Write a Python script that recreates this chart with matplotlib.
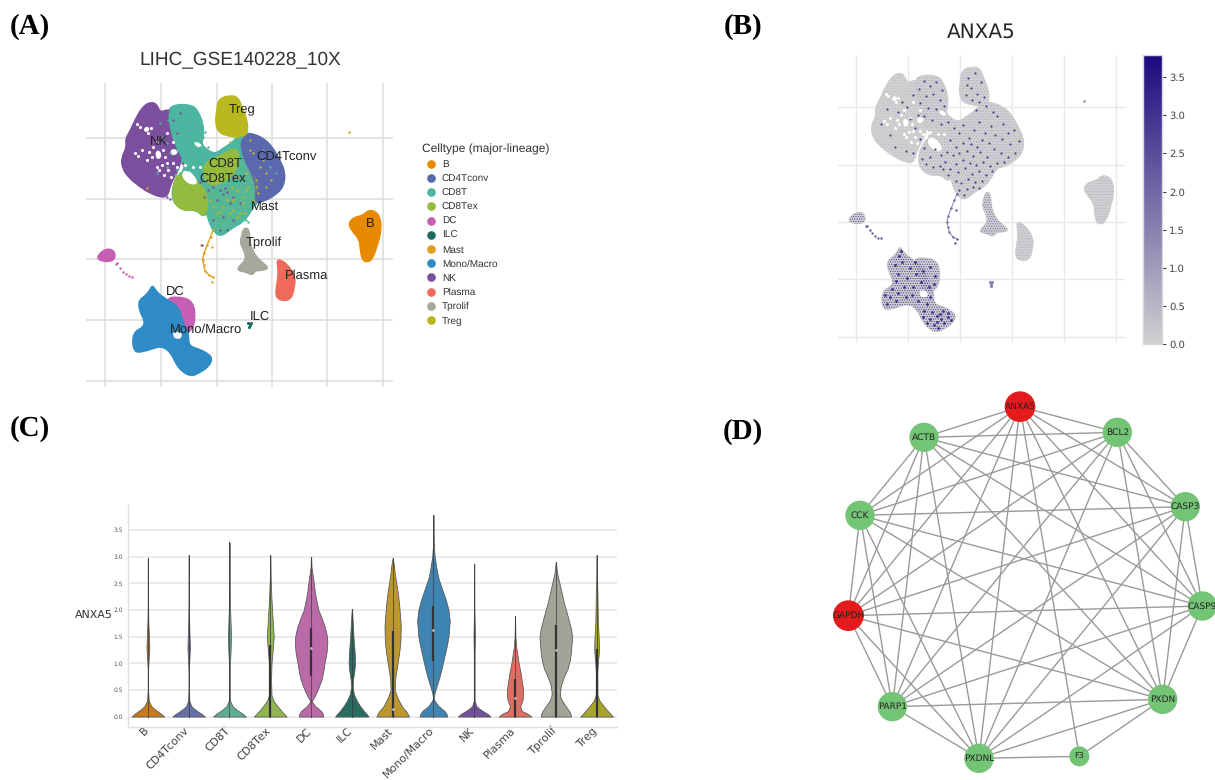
import itertools
import numpy as np
import matplotlib
matplotlib.use('Agg')
import matplotlib.pyplot as plt
from matplotlib.cm import ScalarMappable
from matplotlib.colors import LinearSegmentedColormap, Normalize
from matplotlib.lines import Line2D
from matplotlib.patches import Circle, PathPatch
from matplotlib.path import Path
from matplotlib.transforms import ScaledTranslation

W, H = 1215, 780
plt.rcParams['text.hinting'] = 'no_hinting'
plt.rcParams['text.hinting_factor'] = 1
plt.rcParams['hatch.linewidth'] = 0.5

celltypes = ['B', 'CD4Tconv', 'CD8T', 'CD8Tex', 'DC', 'ILC', 'Mast', 'Mono/Macro', 'NK', 'Plasma', 'Tprolif', 'Treg']
colors = ['#e88a00', '#5b68ad', '#4db6a0', '#93bb3f', '#c65fb3', '#1f6b5f', '#e0a020', '#2f8bc5', '#7b4f9d', '#ee6a5a', '#a5a89a', '#b9b81f']
violin_colors = ['#c67a1d', '#6570a8', '#5eae96', '#92b552', '#bb6aa8', '#2a6b60', '#bd962e', '#3e84b2', '#73519a', '#de6e62', '#a1a496', '#a8a52e']

# umap outlines
t_body = [(500,330),(530,312),(578,316),(594,332),(610,370),(612,410),(604,430),(618,447),(645,462),(665,448),(690,432),(712,412),(735,398),(760,402),(792,416),(818,442),(838,478),(856,515),(852,558),(828,584),(792,604),(768,608),(748,644),(728,668),(697,684),(665,710),(643,698),(625,662),(622,640),(608,650),(590,630),(550,632),(520,608),(515,570),(530,530),(560,500),(530,470),(515,400)]
nk_shape = [(455,306),(472,315),(480,338),(505,328),(527,343),(537,385),(548,420),(543,480),(535,512),(513,548),(503,590),(480,591),(450,579),(418,559),(387,533),(368,507),(364,475),(381,440),(376,418),(391,393),(411,348),(433,316)]
cd8t_shape = [(505,335),(530,315),(575,320),(590,335),(605,370),(608,410),(600,430),(615,450),(645,465),(665,450),(690,435),(720,440),(740,480),(760,520),(790,560),(765,605),(745,640),(725,665),(695,680),(665,705),(645,695),(628,660),(625,635),(620,590),(600,540),(575,500),(550,480),(530,440),(515,400)]
cd4_shape = [(722,425),(742,402),(760,402),(792,416),(818,442),(838,478),(856,515),(852,558),(828,584),(792,604),(765,608),(770,560),(750,510),(730,470)]
cd8tex_shape = [(528,526),(560,521),(592,548),(616,568),(626,625),(610,650),(590,629),(550,632),(522,609),(518,570)]
cd8tex_mid = [(610,490),(660,470),(705,440),(722,470),(700,530),(640,560),(615,540)]
treg_shape = [(655,298),(690,286),(715,292),(726,323),(740,353),(745,398),(722,414),(690,409),(657,399),(646,367),(651,335)]
tprolif_shape = [(732,684),(747,686),(750,720),(754,743),(770,772),(788,788),(808,805),(782,812),(767,811),(757,826),(738,816),(712,811),(720,796),(736,784),(737,762),(727,742),(721,725),(727,703)]
plasma_shape = [(832,776),(862,791),(886,830),(884,862),(873,901),(838,901),(826,882),(836,830),(834,800)]
b_shape = [(1046,670),(1063,652),(1090,647),(1105,631),(1127,634),(1142,653),(1144,692),(1134,732),(1118,779),(1100,787),(1087,778),(1082,747),(1079,717),(1057,693)]
dc_shape = [(497,898),(530,889),(582,902),(586,972),(564,1001),(528,998),(518,950)]
dc_small = [(294,765),(318,746),(343,751),(346,777),(326,786),(294,780)]
mono_shape = [(458,855),(470,877),(497,897),(538,922),(546,963),(566,998),(566,1037),(592,1046),(620,1058),(638,1075),(626,1101),(597,1119),(575,1129),(547,1116),(526,1088),(514,1059),(488,1039),(462,1044),(435,1054),(400,1058),(398,998),(431,982),(434,961),(420,936),(415,903),(437,887),(449,872)]
center_shape = [(640,470),(700,450),(760,520),(785,560),(760,605),(740,640),(720,665),(690,680),(665,700),(645,690),(630,650),(625,610),(610,550)]

# holes in the cloud
hole_mono = [(520,993),(548,998),(543,1018),(520,1015)]
hole_gap = [(548,512),(572,512),(598,550),(572,556),(546,534)]
hole_nk1 = [(430,385),(445,378),(450,392),(435,398)]
hole_nk2 = [(465,455),(480,450),(486,472),(470,480)]
hole_nk3 = [(515,445),(538,452),(525,468),(510,462)]
hole_top = [(580,425),(600,428),(608,442),(590,442)]
white_dots = [(412,372),(420,380),(445,400),(452,385),(460,440),(455,470),(448,455),(490,450),(495,470),(500,490),(485,495),(478,510),(505,510),(492,525),(470,500),(415,468),(405,458),(425,450),(440,480),(520,490),(530,500),(540,510),(555,495),(580,500),(600,500),(512,530),(470,425),(500,400),(520,425)]

mast_ribbon = [(640,690),(632,710),(622,735),(612,760),(608,780),(612,795),(615,812),(628,826),(640,832)]
mast_dots = [(1047,395),(637,742),(635,846),(604,735),(440,565)]
trail_dots = [(350,790),(360,805),(368,815),(378,822),(388,828),(395,831),(348,792)]
ilc_dots = [(745,970),(750,975),(754,968),(748,980)]

purple_dots = [(640,560),(660,570),(680,575),(700,590),(650,600),(690,610),(670,650),(640,660),(660,690),(700,660),(720,610),(600,545),(612,590),(625,570),(680,690),(500,590),(510,597),(605,735),(676,565),(668,583),(520,480),(510,430),(530,400),(520,360),(540,340),(535,460),(545,490)]
yellow_dots = [(700,600),(740,570),(770,560),(800,520),(780,500),(760,600),(720,640),(690,640),(740,520),(640,620),(790,480),(815,540),(760,460),(730,590),(710,570),(670,620),(650,640),(800,560),(750,420),(690,425),(720,390),(770,540),(750,450),(735,640),(700,630),(775,580),(655,540),(680,600),(715,530),(730,610),(745,560),(660,635),(695,560),(712,650),(630,600),(650,510),(690,505)]
teal_dots = [(505,360),(520,400),(500,430),(470,520),(500,500),(530,450),(545,380),(540,350),(515,375),(480,370),(610,410),(615,470),(560,510),(530,510),(600,440),(830,520),(700,440),(720,410),(490,410),(510,460),(525,525),(615,395),(625,440),(738,660),(745,665),(790,450),(810,500)]

# ANXA5 positive cells in panel B
anxa5_t = [(632,480),(648,497),(661,473),(679,512),(694,488),(712,463),(731,497),(748,476),(769,442),(788,468),(803,497),(822,486),(838,522),(812,533),(786,517),(763,503),(744,529),(722,518),(703,541),(684,533),(659,528),(638,541),(619,519),(607,556),(628,567),(648,561),(671,553),(692,569),(715,556),(737,572),(759,547),(781,561),(803,574),(827,561),(792,589),(768,592),(746,603),(725,588),(702,597),(681,591),(658,584),(637,596),(618,612),(644,622),(667,609),(688,627),(711,618),(733,629),(752,618),(722,649),(699,653),(676,642),(653,655),(636,648),(648,677),(671,674),(692,668),(712,671),(664,692),(535,545),(552,572),(571,547),(590,566),(541,595),(563,604),(585,601),(603,589),(612,631),(596,612),(528,578),(517,357),(535,331),(553,349),(572,336),(591,362),(541,381),(563,374),(585,392),(521,402),(548,417),(572,421),(599,411),(535,442),(561,455),(588,469),(612,463),(515,441),(500,376),(479,415),(490,452),(462,398),(505,481),(520,515),(450,430),(425,502),(395,470),(440,540),(475,555),(415,420),(498,560),(675,322),(698,306),(716,335),(685,354),(705,372),(668,378),(728,384),(690,392),(672,345),(712,398),(732,412),(700,425),(755,430)]
anxa5_mono = [(455,885),(440,915),(465,905),(490,925),(450,945),(480,955),(510,945),(530,935),(525,970),(500,985),(470,985),(450,1005),(425,1015),(415,1040),(445,1030),(475,1015),(495,1010),(515,1030),(545,1040),(555,1015),(535,1060),(560,1065),(585,1070),(610,1080),(600,1100),(575,1095),(555,1085),(580,1115),(620,1090),(595,1060),(460,870),(505,905),(555,920),(570,950),(550,985),(565,975),(430,990),(410,1010),(445,965),(530,1080),(590,1085),(565,1105),(612,1068),(545,1098),(575,1075)]

# violin profiles: (expression, half width)
v_b = [(0,.40),(.05,.33),(.1,.24),(.15,.15),(.2,.08),(.3,.02),(.5,.005),(.9,.005),(1.1,.02),(1.3,.035),(1.5,.025),(1.8,.01),(2.1,.005),(2.98,.004)]
v_cd4 = [(0,.40),(.05,.32),(.1,.22),(.15,.13),(.2,.06),(.3,.015),(.5,.005),(.9,.006),(1.1,.018),(1.3,.03),(1.5,.022),(1.8,.01),(2.1,.006),(3.03,.004)]
v_cd8t = [(0,.40),(.05,.33),(.1,.23),(.15,.14),(.2,.07),(.3,.015),(.5,.004),(.9,.006),(1.2,.025),(1.5,.038),(1.8,.025),(2.1,.012),(2.5,.005),(3.27,.003)]
v_tex = [(0,.40),(.05,.34),(.1,.28),(.2,.17),(.3,.08),(.4,.03),(.7,.02),(1.0,.03),(1.25,.06),(1.5,.085),(1.8,.06),(2.2,.03),(2.6,.01),(3.03,.004)]
v_dc = [(0,.30),(.05,.29),(.1,.25),(.2,.10),(.28,.02),(.35,.06),(.4,.10),(.5,.16),(.7,.26),(.85,.30),(1.0,.33),(1.2,.38),(1.4,.40),(1.55,.38),(1.7,.33),(1.85,.26),(2.0,.18),(2.3,.10),(2.6,.05),(2.8,.012),(3.0,.003)]
v_ilc = [(0,.41),(.05,.36),(.1,.30),(.2,.20),(.3,.12),(.42,.05),(.55,.02),(.7,.03),(.85,.06),(1.0,.08),(1.2,.07),(1.5,.04),(1.8,.02),(2.02,.003)]
v_mast = [(0,.40),(.05,.37),(.1,.33),(.2,.22),(.35,.12),(.5,.05),(.7,.06),(1.0,.12),(1.2,.16),(1.4,.19),(1.7,.20),(1.9,.18),(2.1,.16),(2.3,.13),(2.5,.09),(2.7,.05),(2.85,.03),(2.97,.003)]
v_mono = [(0,.34),(.05,.32),(.1,.28),(.2,.12),(.3,.03),(.35,.01),(.45,.03),(.6,.09),(.75,.15),(.9,.20),(1.1,.26),(1.3,.32),(1.5,.37),(1.8,.40),(2.0,.37),(2.2,.30),(2.4,.21),(2.6,.12),(2.8,.07),(3.0,.03),(3.2,.012),(3.4,.004),(3.78,.002)]
v_nk = [(0,.40),(.05,.33),(.1,.22),(.15,.12),(.2,.05),(.3,.01),(1.2,.01),(1.5,.018),(2.0,.005),(2.87,.002)]
v_plasma = [(0,.40),(.05,.32),(.1,.18),(.15,.14),(.2,.13),(.3,.18),(.4,.20),(.5,.20),(.7,.16),(.85,.13),(1.0,.09),(1.15,.06),(1.3,.03),(1.5,.01),(1.88,.002)]
v_tprolif = [(0,.37),(.05,.36),(.1,.33),(.2,.24),(.3,.15),(.38,.11),(.45,.10),(.6,.13),(.75,.20),(.9,.29),(1.05,.34),(1.2,.37),(1.5,.40),(1.65,.37),(1.8,.32),(2.0,.25),(2.1,.21),(2.3,.15),(2.5,.09),(2.7,.03),(2.9,.003)]
v_treg = [(0,.40),(.05,.34),(.1,.28),(.2,.17),(.3,.07),(.4,.02),(.8,.015),(1.0,.03),(1.15,.05),(1.3,.06),(1.5,.05),(1.8,.03),(2.3,.02),(2.7,.005),(3.03,.002)]

box_low = [None, None, None, 0, .77, None, 0, 1.05, None, 0, 0, 0]
box_high = [None, None, None, 1.35, 1.67, None, 1.6, 2.07, None, .7, 1.72, 1.27]
medians = [None, None, None, None, 1.28, None, .15, 1.63, None, .35, 1.25, None]

# network, node centres
node_names = ['ANXA5', 'BCL2', 'CASP3', 'CASP9', 'PXDN', 'PXDNL', 'PARP1', 'GAPDH', 'CCK', 'ACTB']
node_x = [600, 892, 1096, 1147, 1028, 477, 217, 85, 120, 312]
node_y = [80, 157, 380, 678, 958, 1135, 980, 707, 406, 172]
node_colors = ['#e41a1c', '#74c476', '#74c476', '#74c476', '#74c476', '#74c476', '#74c476', '#e41a1c', '#74c476', '#74c476']
f3_x, f3_y = 778, 1129
f3_links = ['ANXA5', 'PXDN', 'PXDNL']


def new_axes(x0, y0, x1, y1):
    return plt.gcf().add_axes([x0 / W, 1 - y1 / H, (x1 - x0) / W, (y1 - y0) / H])


def umap_axes(x0, y0, x1, y1):
    ax = new_axes(x0, y0, x1, y1)
    ax.set_xlim(258, 1180)
    ax.set_ylim(1162, 250)
    ax.set_xticks([316, 484, 650, 817, 983, 1150])
    ax.set_yticks([415, 597, 778, 960, 1143])
    ax.tick_params(length=0, labelbottom=False, labelleft=False)
    ax.grid(color='#dcdcdc', lw=1.1)
    ax.set_axisbelow(True)
    for s in ax.spines.values():
        s.set_visible(False)
    return ax


def xy(pts):
    a = np.array(pts, dtype=float)
    return a[:, 0], a[:, 1]


def blob(shape, **kw):
    # rounded closed outline, the vertices act as quadratic control points
    a = np.array(shape, dtype=float)
    mids = (a + np.roll(a, -1, axis=0)) / 2
    verts = [mids[-1]]
    codes = [Path.MOVETO]
    for p, m in zip(a, mids):
        verts += [p, m]
        codes += [Path.CURVE3, Path.CURVE3]
    return PathPatch(Path(verts, codes), **kw)


fig = plt.figure(figsize=(W / 100, H / 100), dpi=100)

# (A)
ax = umap_axes(86, 83.3, 393, 387.3)
col = dict(zip(celltypes, colors))
ax.add_patch(blob(t_body, fc=col['CD8T'], ec=col['CD8T'], lw=1))
layers = [(nk_shape, 'NK'), (cd8t_shape, 'CD8T'), (cd4_shape, 'CD4Tconv'), (cd8tex_shape, 'CD8Tex'),
          (cd8tex_mid, 'CD8Tex'), (treg_shape, 'Treg'), (tprolif_shape, 'Tprolif'), (plasma_shape, 'Plasma'),
          (b_shape, 'B'), (dc_shape, 'DC'), (dc_small, 'DC'), (mono_shape, 'Mono/Macro')]
for shape, name in layers:
    ax.add_patch(blob(shape, fc=col[name], ec=col[name], lw=1.2))
holes = [hole_mono, hole_gap, hole_nk1, hole_nk2, hole_nk3, hole_top]
for shape in holes:
    ax.add_patch(blob(shape, fc='white', ec='none'))
ax.add_patch(blob(center_shape, fc='none', ec='#a9c23a', hatch='.......', lw=0, alpha=.45))
ax.scatter(*xy(white_dots), s=5, color='white', lw=0)
ax.plot(*xy(mast_ribbon), color=col['Mast'], lw=1.0)
ax.scatter(*xy(mast_ribbon + mast_dots), s=3, color=col['Mast'], lw=0)
ax.scatter(*xy(trail_dots), s=3, color=col['DC'], lw=0)
ax.scatter(*xy(ilc_dots), s=5, color=col['ILC'], lw=0)
ax.scatter(*xy(purple_dots), s=3, color=col['NK'], lw=0)
ax.scatter(*xy(yellow_dots), s=3, color=col['Treg'], lw=0)
ax.scatter(*xy(teal_dots), s=3, color=col['CD8T'], lw=0)

label_names = ['Treg', 'NK', 'CD8T', 'CD4Tconv', 'CD8Tex', 'Mast', 'B', 'Tprolif', 'Plasma', 'DC', 'ILC', 'Mono/Macro']
label_x = [728, 478, 677, 860, 668, 795, 1113, 792, 920, 525, 780, 620]
label_y = [330, 425, 490, 470, 535, 623, 672, 730, 828, 875, 950, 988]
for n, lx, ly in zip(label_names, label_x, label_y):
    ax.text(lx, ly, n, ha='center', va='center', fontsize=9.2, color='#222222', family='Liberation Sans')

fig.text(240 / W, 1 - 60.5 / H, 'LIHC_GSE140228_10X', ha='center', va='center', fontsize=13.5, color='#333333', family='Liberation Sans')
handles = [Line2D([], [], ls='', marker='o', ms=5.2, color=c) for c in colors]
leg = fig.legend(handles, celltypes, loc='upper left', bbox_to_anchor=(419 / W, 1 - 141.5 / H), frameon=False,
                 title='Celltype (major-lineage)', prop={'family': 'Liberation Sans', 'size': 7.3},
                 labelspacing=.48, handlelength=1.8, handletextpad=.2, borderpad=0.25, borderaxespad=0)
leg.get_title().set_fontfamily('Liberation Sans')
leg.get_title().set_fontsize(8.7)
leg._legend_box.align = 'left'
for t in leg.get_texts():
    t.set_color('#333333')
leg.get_title().set_color('#333333')

# (B)
ax = umap_axes(838, 55, 1125, 343)
ax.grid(color='#e8e8e8', lw=1.0)
cmap = LinearSegmentedColormap.from_list('anxa5', ['#d0d0d0', '#1b0a7e'])
norm = Normalize(0, 3.79)
grey_layers = [t_body, nk_shape, treg_shape, tprolif_shape, plasma_shape, b_shape, dc_shape, dc_small, mono_shape]
levels = [2.0, 1.4, 1.8, 2.6, 1.2, 1.6, 2.8, 2.8, 2.9]
fine_hatch = ['......', '......', '......', '.......', '......', '......', '.......', '.......', '.......']
hatch_alpha = [.3, .2, .3, .7, .5, .35, .9, .9, 1]
for shape in grey_layers:
    ax.add_patch(blob(shape, fc='#d0d0d0', ec='#d0d0d0', lw=.8))
for shape, lev, h1, al in zip(grey_layers, levels, fine_hatch, hatch_alpha):
    ax.add_patch(blob(shape, fc='none', ec=cmap(norm(lev)), hatch=h1, lw=0, alpha=al))
for shape in holes:
    ax.add_patch(blob(shape, fc='white', ec='none'))
ax.scatter(*xy(white_dots), s=5, color='white', lw=0)
ax.scatter(*xy(anxa5_t), s=2.5, color=cmap(norm(2.8)), lw=0)
ax.scatter(*xy(anxa5_mono), s=4, color=cmap(norm(3.1)), lw=0)
ax.plot(*xy(mast_ribbon), color='#8a82b8', lw=.7)
ax.scatter(*xy(mast_ribbon + mast_dots[1:3]), s=3, color=cmap(norm(2.4)), lw=0)
ax.scatter(*xy(mast_dots[:1]), s=5, color='#b0b0c0', lw=0)
ax.scatter(*xy(trail_dots), s=3, color=cmap(norm(2.2)), lw=0)
ax.scatter(*xy(ilc_dots), s=5, color='#8a82b8', lw=0)
fig.text(981 / W, 1 - 32 / H, 'ANXA5', ha='center', va='center', fontsize=14.5, color='#262626')

cax = new_axes(1143, 55, 1162, 344.3)
cb = fig.colorbar(ScalarMappable(norm=norm, cmap=cmap), cax=cax)
cb.set_ticks(np.arange(0, 4, .5))
cb.ax.tick_params(labelsize=7, length=3, width=.8, color='#444444', labelcolor='#444444', pad=2)
cb.outline.set_edgecolor('#d8d8d8')
cb.outline.set_linewidth(1)

# (C)
ax = new_axes(127.5, 505, 617, 726.7)
profiles = [v_b, v_cd4, v_cd8t, v_tex, v_dc, v_ilc, v_mast, v_mono, v_nk, v_plasma, v_tprolif, v_treg]
for i, prof in enumerate(profiles):
    y, w = xy(prof)
    ax.plot([i, i], [0, y[-1]], color='#555555', lw=.7, zorder=2)
    ax.fill_betweenx(y, i - w, i + w, color=violin_colors[i], ec='#555555', lw=.55, zorder=3)
    ax.plot([i, i], [0, y[-1]], color='#3a3a3a', lw=.5, zorder=4)
    if box_low[i] is not None:
        ax.plot([i, i], [box_low[i], box_high[i]], color='#333333', lw=1.6, solid_capstyle='butt', zorder=5)
    if medians[i] is not None:
        ax.plot([i], [medians[i]], marker='o', ms=1.0, color='#bbbbbb', zorder=6)
ax.set_xlim(-.5, 11.5)
ax.set_ylim(-.19, 3.97)
ax.set_yticks(np.arange(0, 4, .5))
ax.set_xticks(range(12))
ax.set_xticklabels(celltypes, rotation=45, ha='right', rotation_mode='anchor', fontsize=7.8, color='#444444')
ax.tick_params(axis='y', labelsize=4.3, labelcolor='#555555', length=0, pad=3)
ax.tick_params(axis='x', length=0, pad=1)
shift = ScaledTranslation(-5 / 100, 3 / 100, fig.dpi_scale_trans)
for t in ax.get_xticklabels():
    t.set_transform(t.get_transform() + shift)
ax.grid(axis='y', color='#e6e6e6', lw=1.1)
ax.set_axisbelow(True)
for s in ['top', 'right']:
    ax.spines[s].set_visible(False)
for s in ['left', 'bottom']:
    ax.spines[s].set_color('#e0e0e0')
    ax.spines[s].set_linewidth(1.0)
fig.text(93.5 / W, 1 - 615 / H, 'ANXA5', ha='center', va='center', fontsize=8.2, color='#333333')

# (D)
ax = new_axes(820, 380, 1215, 780)
ax.set_xlim(0, 1185)
ax.set_ylim(1200, 0)
ax.axis('off')
pos = {n: (a, b) for n, a, b in zip(node_names, node_x, node_y)}
for n1, n2 in itertools.combinations(node_names, 2):
    ax.plot([pos[n1][0], pos[n2][0]], [pos[n1][1], pos[n2][1]], color='#9a9a9a', lw=1.0, zorder=1)
for n in f3_links:
    ax.plot([f3_x, pos[n][0]], [f3_y, pos[n][1]], color='#9a9a9a', lw=1.0, zorder=1)
for n, c in zip(node_names, node_colors):
    r = 46 if c == '#e41a1c' else 44
    ax.add_patch(Circle(pos[n], r, fc=c, ec='none', zorder=2))
    ax.text(pos[n][0], pos[n][1], n, ha='center', va='center', fontsize=6.5, color='#222222', zorder=3)
ax.add_patch(Circle((f3_x, f3_y), 30, fc='#74c476', ec='none', zorder=2))
ax.text(f3_x, f3_y, 'F3', ha='center', va='center', fontsize=5.6, color='#222222', zorder=3)

panel_labels = ['(A)', '(B)', '(C)', '(D)']
panel_x = [30, 743, 30, 743]
panel_y = [27, 27, 429, 432]
for t, px, py in zip(panel_labels, panel_x, panel_y):
    fig.text(px / W, 1 - py / H, t, ha='center', va='center', fontsize=21, fontweight='bold', family='Liberation Serif', color='black')

fig.savefig('out.png', dpi=100)
